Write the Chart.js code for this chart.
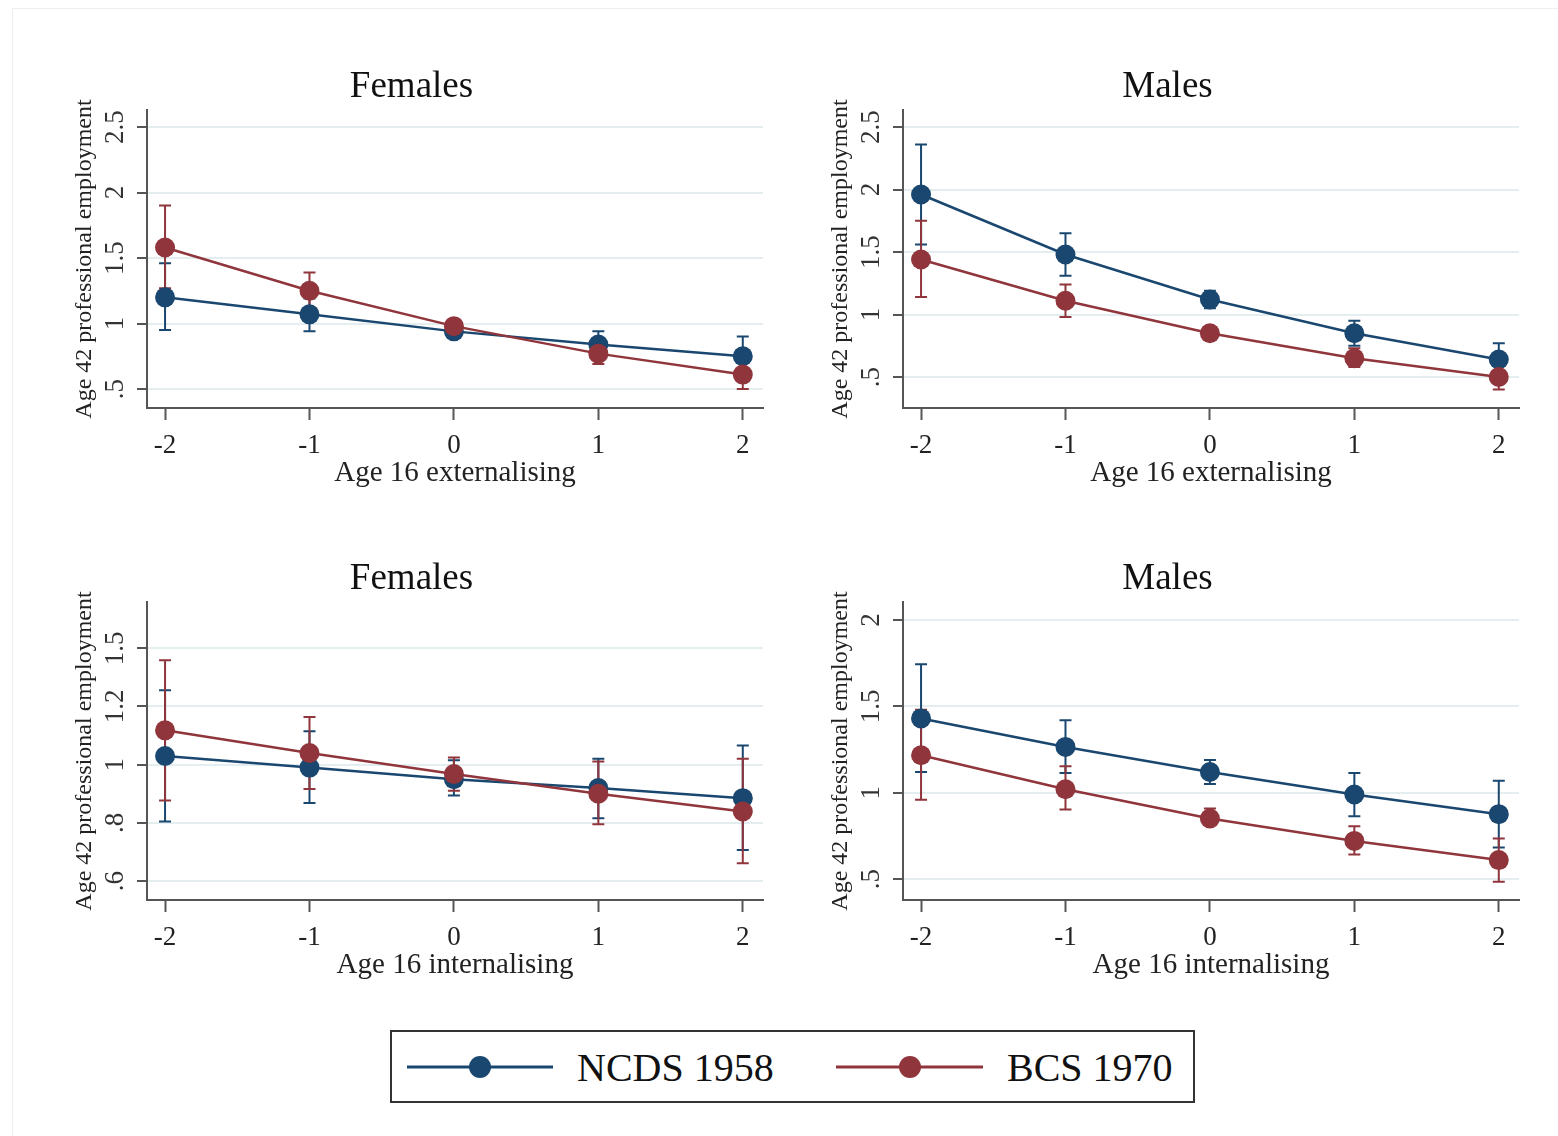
<!DOCTYPE html>
<html>
<head>
<meta charset="utf-8">
<script src="https://cdn.jsdelivr.net/npm/chart.js@4"></script>
<style>
  body { margin: 0; background: #fff; }
  #page { position: relative; width: 1558px; height: 1136px; overflow: hidden; }
  #frame { position: absolute; left: 12px; top: 8px; width: 1560px; height: 1140px; border: 1px solid #eeeeee; }
  canvas { position: absolute; }
  #legend { position: absolute; left: 390px; top: 1030px; width: 801px; height: 69px; border: 2px solid #333; background: #fff; }
</style>
</head>
<body>
<div id="page">
  <div id="frame"></div>
  <canvas id="femExt" width="715" height="440" style="left:60px;top:55px"></canvas>
  <canvas id="malExt" width="715" height="440" style="left:816px;top:55px"></canvas>
  <canvas id="femInt" width="715" height="440" style="left:60px;top:547px"></canvas>
  <canvas id="malInt" width="715" height="440" style="left:816px;top:547px"></canvas>
  <div id="legend">
    <svg width="801" height="69" font-family="Liberation Serif, Times New Roman, serif">
      <line x1="15" y1="35" x2="161" y2="35" stroke="#1a476f" stroke-width="3"/>
      <circle cx="88" cy="35" r="11" fill="#1a476f"/>
      <text x="185" y="49" font-size="40" fill="#111">NCDS 1958</text>
      <line x1="444" y1="35" x2="591" y2="35" stroke="#90353b" stroke-width="3"/>
      <circle cx="518" cy="35" r="11" fill="#90353b"/>
      <text x="615" y="49" font-size="40" fill="#111">BCS 1970</text>
    </svg>
  </div>
</div>
<script>
const xValues = [-2, -1, 0, 1, 2];
const xLabels = ['-2', '-1', '0', '1', '2'];

// Females, externalising
const ncdsFemExt   = [1.20, 1.07, 0.94, 0.84, 0.75];
const ncdsFemExtLo = [0.95, 0.94, 0.91, 0.75, 0.60];
const ncdsFemExtHi = [1.46, 1.19, 0.97, 0.94, 0.90];
const bcsFemExt    = [1.58, 1.25, 0.98, 0.77, 0.61];
const bcsFemExtLo  = [1.27, 1.11, 0.94, 0.69, 0.50];
const bcsFemExtHi  = [1.90, 1.39, 1.02, 0.86, 0.72];

// Males, externalising
const ncdsMalExt   = [1.96, 1.48, 1.12, 0.85, 0.64];
const ncdsMalExtLo = [1.56, 1.31, 1.05, 0.75, 0.52];
const ncdsMalExtHi = [2.36, 1.65, 1.19, 0.95, 0.77];
const bcsMalExt    = [1.44, 1.11, 0.85, 0.65, 0.50];
const bcsMalExtLo  = [1.14, 0.98, 0.81, 0.58, 0.40];
const bcsMalExtHi  = [1.75, 1.24, 0.89, 0.73, 0.59];

// Females, internalising
const ncdsFemInt   = [1.03, 0.99, 0.95, 0.92, 0.885];
const ncdsFemIntLo = [0.805, 0.868, 0.894, 0.816, 0.707];
const ncdsFemIntHi = [1.256, 1.115, 1.015, 1.02, 1.066];
const bcsFemInt    = [1.118, 1.04, 0.968, 0.90, 0.839];
const bcsFemIntLo  = [0.877, 0.916, 0.91, 0.795, 0.661];
const bcsFemIntHi  = [1.359, 1.164, 1.025, 1.011, 1.02];

// Males, internalising
const ncdsMalInt   = [1.43, 1.265, 1.12, 0.99, 0.876];
const ncdsMalIntLo = [1.12, 1.114, 1.05, 0.864, 0.683];
const ncdsMalIntHi = [1.743, 1.42, 1.19, 1.114, 1.07];
const bcsMalInt    = [1.217, 1.02, 0.851, 0.721, 0.61];
const bcsMalIntLo  = [0.96, 0.903, 0.812, 0.643, 0.484];
const bcsMalIntHi  = [1.48, 1.153, 0.909, 0.806, 0.735];

// y ticks per panel
const yTicksExt = [0.5, 1, 1.5, 2, 2.5];
const yLabelsExt = ['.5', '1', '1.5', '2', '2.5'];
const yTicksFemInt = [0.6, 0.8, 1, 1.2, 1.4];
const yLabelsFemInt = ['.6', '.8', '1', '1.2', '1.5'];
const yTicksMalInt = [0.5, 1, 1.5, 2];
const yLabelsMalInt = ['.5', '1', '1.5', '2'];

const NAVY = '#1a476f';
const MAROON = '#90353b';
const FONT = '"Liberation Serif", "Times New Roman", serif';

// confidence intervals, drawn under the lines
const errorBars = {
  id: 'errorBars',
  beforeDatasetsDraw(chart) {
    const { ctx, scales: { x, y } } = chart;
    chart.data.datasets.forEach(ds => {
      ctx.save();
      ctx.strokeStyle = ds.borderColor;
      ctx.lineWidth = 2;
      ds.data.forEach(p => {
        const px = x.getPixelForValue(p.x);
        const lo = y.getPixelForValue(p.lo);
        const hi = y.getPixelForValue(p.hi);
        ctx.beginPath();
        ctx.moveTo(px, lo); ctx.lineTo(px, hi);
        ctx.moveTo(px - 6, lo); ctx.lineTo(px + 6, lo);
        ctx.moveTo(px - 6, hi); ctx.lineTo(px + 6, hi);
        ctx.stroke();
      });
      ctx.restore();
    });
  }
};

// stata style vertical y tick labels
const yLabels = {
  id: 'yLabels',
  afterDraw(chart, args, opts) {
    const { ctx } = chart;
    const y = chart.scales.y;
    ctx.save();
    ctx.font = '27px ' + FONT;
    ctx.fillStyle = '#333';
    ctx.textAlign = 'center';
    ctx.textBaseline = 'middle';
    opts.values.forEach((v, i) => {
      ctx.save();
      ctx.translate(y.right - 31, y.getPixelForValue(v));
      ctx.rotate(-Math.PI / 2);
      ctx.fillText(opts.labels[i], 0, 0);
      ctx.restore();
    });
    ctx.restore();
  }
};

function series(label, color, vals, lo, hi, order) {
  return {
    label,
    data: xValues.map((x, i) => ({ x, y: vals[i], lo: lo[i], hi: hi[i] })),
    borderColor: color,
    backgroundColor: color,
    borderWidth: 2.5,
    pointRadius: 10,
    pointBorderWidth: 0,
    pointBackgroundColor: color,
    order
  };
}

function makePanel(id, title, xTitle, yTicks, yTickLabels, yMin, yMax, ncds, bcs) {
  new Chart(document.getElementById(id), {
    type: 'line',
    data: {
      datasets: [
        series('NCDS 1958', NAVY, ncds[0], ncds[1], ncds[2], 2),
        series('BCS 1970', MAROON, bcs[0], bcs[1], bcs[2], 1)
      ]
    },
    options: {
      responsive: false,
      animation: false,
      layout: { padding: { right: 12 } },
      plugins: {
        legend: { display: false },
        tooltip: { enabled: false },
        title: {
          display: true, text: title, color: '#111',
          font: { family: FONT, size: 37, weight: 'normal' },
          padding: { top: 10, bottom: 0.6 }
        },
        yLabels: { values: yTicks, labels: yTickLabels }
      },
      scales: {
        x: {
          type: 'linear', min: -2.125, max: 2.14,
          afterBuildTicks: s => { s.ticks = xValues.map(v => ({ value: v })); },
          afterFit: s => { s.height = 87; },
          ticks: {
            callback: (v, i) => xLabels[i],
            font: { family: FONT, size: 27 }, color: '#222',
            padding: 10, maxRotation: 0, autoSkip: false
          },
          grid: { drawOnChartArea: false, tickLength: 12, tickColor: '#555', tickWidth: 2 },
          border: { color: '#555', width: 2 },
          title: {
            display: true, text: xTitle, color: '#222',
            font: { family: FONT, size: 29 },
            padding: { top: 0, bottom: 4 }
          }
        },
        y: {
          min: yMin, max: yMax,
          afterBuildTicks: s => { s.ticks = yTicks.map(v => ({ value: v })); },
          afterFit: s => { s.width = 87; },
          ticks: { display: false },
          grid: { color: '#e4eef0', lineWidth: 2, tickLength: 10, tickColor: '#555', tickWidth: 2 },
          border: { color: '#555', width: 2 },
          title: {
            display: true, text: 'Age 42 professional employment', color: '#222',
            font: { family: FONT, size: 24 },
            padding: { top: 10, bottom: 0 }
          }
        }
      }
    },
    plugins: [errorBars, yLabels]
  });
}

makePanel('femExt', 'Females', 'Age 16 externalising', yTicksExt, yLabelsExt, 0.355, 2.63,
  [ncdsFemExt, ncdsFemExtLo, ncdsFemExtHi], [bcsFemExt, bcsFemExtLo, bcsFemExtHi]);
makePanel('malExt', 'Males', 'Age 16 externalising', yTicksExt, yLabelsExt, 0.252, 2.636,
  [ncdsMalExt, ncdsMalExtLo, ncdsMalExtHi], [bcsMalExt, bcsMalExtLo, bcsMalExtHi]);
makePanel('femInt', 'Females', 'Age 16 internalising', yTicksFemInt, yLabelsFemInt, 0.535, 1.559,
  [ncdsFemInt, ncdsFemIntLo, ncdsFemIntHi], [bcsFemInt, bcsFemIntLo, bcsFemIntHi]);
makePanel('malInt', 'Males', 'Age 16 internalising', yTicksMalInt, yLabelsMalInt, 0.379, 2.104,
  [ncdsMalInt, ncdsMalIntLo, ncdsMalIntHi], [bcsMalInt, bcsMalIntLo, bcsMalIntHi]);
</script>
</body>
</html>
